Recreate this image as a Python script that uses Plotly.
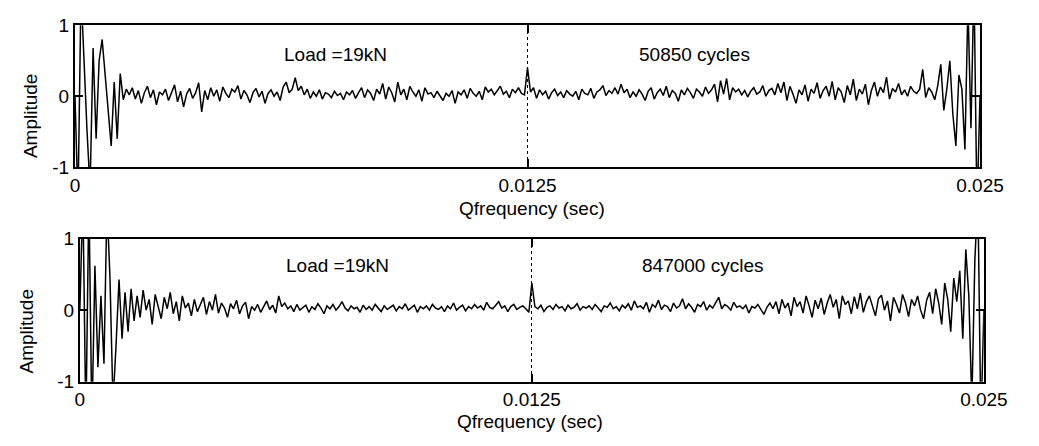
import numpy as np
import plotly.graph_objects as go

# ---------------- data ----------------
x_tick_vals = [0, 0.0125, 0.025]
x_tick_text = ["0", "0.0125", "0.025"]
y_tick_vals = [-1, 0, 1]
y_tick_text = ["-1", "0", "1"]
x_title = "Qfrequency (sec)"
y_title = "Amplitude"
load_label = "Load =19kN"
cycles_top = "50850 cycles"
cycles_bottom = "847000 cycles"
x_end = 0.025

amp_50850 = [
    0.0, -1.5, 1.5, 0.4, -0.5, -1.3, 0.68, -0.6, 0.5, 0.8,
    0.3, -0.2, -0.7, 0.2, -0.6, 0.32, -0.05, 0.1, 0.02, 0.12,
    -0.04, 0.08, -0.1, 0.05, 0.14, -0.02, 0.09, -0.12, 0.06, 0.02,
    0.1, -0.06, 0.04, 0.16, -0.08, 0.07, -0.15, 0.03, 0.11, -0.03,
    0.05, 0.19, -0.22, 0.08, -0.05, 0.12, 0.0, 0.09, -0.07, 0.13,
    0.04, -0.02, 0.1, 0.06, 0.15, -0.04, 0.08, 0.02, -0.09, 0.05,
    0.11, -0.01, 0.07, -0.1, 0.04, 0.09, 0.0, 0.06, -0.06, 0.13,
    0.2, 0.05, 0.1, 0.26, 0.08, 0.14, 0.02, 0.1, -0.03, 0.06,
    0.0, 0.09, -0.04, 0.05, 0.03, -0.02, 0.07, 0.01, 0.04, -0.05,
    0.06, 0.02, 0.08, -0.03, 0.05, 0.12, -0.02, 0.09, 0.04, -0.06,
    0.1, 0.03, 0.18, -0.04, 0.13, 0.05, -0.08, 0.2, 0.02, 0.1,
    -0.05, 0.14, 0.06, 0.0, 0.09, -0.07, 0.12, 0.03, 0.05, -0.02,
    0.07, 0.01, -0.06, 0.04, 0.0, 0.08, -0.1, 0.06, 0.02, 0.09,
    -0.03, 0.11, 0.04, 0.0, 0.07, -0.05, 0.13, 0.06, 0.1, 0.02,
    0.08, 0.14, 0.03, 0.07, -0.02, 0.1, 0.05, 0.12, 0.04, 0.02,
    0.4, 0.06, 0.12, -0.03, 0.09, 0.02, 0.07, -0.04, 0.05, 0.1,
    0.01, 0.06, -0.02, 0.08, 0.03, 0.0, 0.07, -0.05, 0.1, 0.04,
    0.02, 0.11, -0.03, 0.06, 0.09, 0.15, 0.01, 0.08, 0.04, 0.12,
    0.03, 0.17, 0.05, 0.1, -0.02, 0.06, 0.0, 0.09, 0.03, -0.06,
    0.07, 0.12, -0.04, 0.05, 0.1, 0.01, 0.14, -0.02, 0.08, 0.04,
    -0.07, 0.09, 0.02, 0.11, 0.05, -0.03, 0.1, 0.06, 0.0, 0.13,
    0.04, 0.09, 0.17, -0.08, 0.22, 0.03, 0.25, -0.05, 0.12, 0.06,
    0.1, 0.02, 0.08, -0.01, 0.07, 0.12, 0.03, 0.06, 0.15, 0.0,
    0.08, 0.11, 0.02, 0.18, 0.05, 0.2, -0.06, 0.14, 0.03, -0.1,
    0.09, 0.02, 0.16, -0.07, 0.1, 0.04, 0.19, -0.03, 0.08, 0.14,
    0.0, 0.21, -0.05, 0.12, 0.06, -0.09, 0.15, 0.02, 0.24, -0.06,
    0.1, 0.03, 0.17, -0.12, 0.08, 0.2, 0.0, 0.13, 0.05, 0.27,
    -0.04, 0.11, 0.06, 0.18, 0.02, 0.09, 0.0, 0.14, 0.07, 0.04,
    0.1, 0.38, -0.02, 0.12, 0.06, -0.05, 0.15, 0.45, -0.2, 0.1,
    0.5, -0.25, -0.7, 0.3, 0.1, -0.75, 1.3, -0.45, 1.6, -1.6,
    0.0,
]

amp_847000 = [
    0.0, 1.6, -1.6, 1.6, -1.6, 0.62, -0.8, 0.2, -0.75, 1.5,
    0.45, -1.3, -0.5, 0.43, -0.4, 0.25, -0.3, 0.3, -0.15, 0.2,
    -0.1, 0.28, 0.0, 0.15, -0.2, 0.22, 0.05, -0.12, 0.18, 0.02,
    0.25, -0.05, 0.12, -0.15, 0.2, 0.03, 0.1, -0.08, 0.15, -0.02,
    0.08, 0.18, -0.06, 0.12, 0.0, 0.22, -0.04, 0.1, 0.03, -0.1,
    0.09, 0.02, 0.14, -0.05, 0.06, 0.11, -0.12, 0.05, 0.0, 0.08,
    -0.03, 0.06, 0.13, 0.01, 0.07, -0.04, 0.2, 0.05, 0.1, 0.02,
    0.06, -0.02, 0.08, 0.0, 0.04, 0.07, -0.03, 0.05, 0.01, 0.09,
    0.03, -0.05, 0.06, 0.02, 0.08, 0.0, 0.05, 0.12, 0.03, -0.01,
    0.06, 0.02, 0.04, -0.03, 0.07, 0.01, 0.05, 0.0, 0.08, 0.03,
    -0.02, 0.06, 0.01, 0.04, 0.07, -0.01, 0.05, 0.02, 0.09, 0.0,
    0.04, 0.07, -0.03, 0.05, 0.02, 0.06, 0.0, 0.08, 0.03, 0.01,
    0.05, -0.02, 0.06, 0.02, 0.1, 0.0, 0.04, 0.07, -0.01, 0.05,
    0.02, 0.08, 0.03, 0.06, 0.0, 0.11, 0.04, 0.02, 0.07, 0.12,
    0.03, 0.06, -0.02, 0.05, 0.08, 0.01, 0.04, 0.06, 0.02, -0.03,
    0.38, 0.05, 0.02, 0.07, -0.02, 0.04, 0.06, 0.01, 0.08, 0.03,
    0.05, -0.01, 0.07, 0.02, 0.04, 0.09, 0.0, 0.05, 0.03, 0.06,
    0.01, 0.08, 0.03, -0.02, 0.06, 0.04, 0.1, 0.02, 0.05, -0.01,
    0.07, 0.03, 0.09, 0.0, 0.13, 0.04, 0.06, 0.02, 0.11, -0.03,
    0.08, 0.04, 0.14, 0.01, 0.07, 0.05, -0.02, 0.1, 0.03, 0.06,
    0.16, 0.02, 0.09, 0.04, -0.03, 0.08, 0.05, 0.12, 0.0, 0.07,
    0.03, 0.1, 0.18, 0.02, 0.08, 0.05, 0.0, 0.11, 0.04, 0.06,
    0.02, 0.07, -0.04, 0.05, 0.03, 0.08, 0.0, -0.06, 0.04, 0.1,
    0.02, 0.12, -0.05, 0.15, 0.03, 0.1, -0.08, 0.18, 0.05, 0.12,
    -0.04, 0.2, 0.06, -0.1, 0.14, 0.02, 0.17, -0.06, 0.1, 0.22,
    0.04, 0.15, -0.12, 0.2, 0.08, 0.13, -0.05, 0.19, 0.02, 0.24,
    -0.03, 0.12, 0.2, 0.05, -0.08, 0.16, 0.21, 0.0, 0.13, -0.15,
    0.18, 0.08, -0.04, 0.22, 0.1, -0.09, 0.15, 0.06, 0.2, 0.0,
    -0.12, 0.14, 0.25, -0.05, 0.3, 0.1, -0.2, 0.38, 0.15, -0.3,
    0.45, 0.12, 0.55, -0.4, 0.85, 0.2, -1.3, 0.7, 1.6, -1.6,
    0.0,
]

# ---------------- figure ----------------
W, H = 1039, 446
FONT = "Liberation Sans, Arial, sans-serif"
FS = 19


def px_x(p):
    return p / W


def px_y(p):
    return 1 - p / H


panels = [
    dict(y=amp_50850, xd=(72, 1003), yd=(16, 165), cyc=cycles_top,
         load_pos=(340, 47), cyc_pos=(709, 47), amp_pos=(26, 111), xt_pos=(542, 208)),
    dict(y=amp_847000, xd=(77, 1007), yd=(240, 390), cyc=cycles_bottom,
         load_pos=(342, 268), cyc_pos=(718, 268), amp_pos=(22, 337), xt_pos=(540, 432)),
]

fig = go.Figure()
annotations = []
for i, p in enumerate(panels, start=1):
    ys = p["y"]
    n = len(ys)
    xs = np.linspace(0, x_end, n)
    xa = "x" if i == 1 else f"x{i}"
    ya = "y" if i == 1 else f"y{i}"
    fig.add_trace(go.Scatter(x=xs, y=ys, mode="lines", xaxis=xa, yaxis=ya,
                             line=dict(color="black", width=1.5), showlegend=False,
                             hoverinfo="skip"))
    axkey = "" if i == 1 else str(i)
    fig.update_layout(**{
        f"xaxis{axkey}": dict(
            domain=[px_x(p["xd"][0]), px_x(p["xd"][1])], anchor=ya,
            range=[0, x_end], tickvals=x_tick_vals, ticktext=x_tick_text,
            ticks="inside", ticklen=8, tickwidth=1.5, tickcolor="black",
            showline=True, linecolor="black", linewidth=2, mirror="ticks",
            showgrid=True, gridcolor="black", griddash="dot", gridwidth=1,
            zeroline=False, tickfont=dict(family=FONT, size=FS, color="black"),
        ),
        f"yaxis{axkey}": dict(
            domain=[px_y(p["yd"][1]), px_y(p["yd"][0])], anchor=xa,
            range=[-1, 1], tickvals=y_tick_vals, ticktext=y_tick_text,
            ticks="inside", ticklen=8, tickwidth=1.5, tickcolor="black",
            showline=True, linecolor="black", linewidth=2, mirror="ticks",
            showgrid=False, zeroline=False,
            tickfont=dict(family=FONT, size=FS, color="black"),
        ),
    })
    for txt, pos in [(load_label, p["load_pos"]), (p["cyc"], p["cyc_pos"]),
                     (x_title, p["xt_pos"])]:
        annotations.append(dict(text=txt, x=px_x(pos[0]), y=px_y(pos[1]),
                                xref="paper", yref="paper", showarrow=False,
                                xanchor="center", yanchor="middle",
                                font=dict(family=FONT, size=FS, color="black")))
    annotations.append(dict(text=y_title, x=px_x(p["amp_pos"][0]), y=px_y(p["amp_pos"][1]),
                            xref="paper", yref="paper", showarrow=False, textangle=-90,
                            xanchor="center", yanchor="middle",
                            font=dict(family=FONT, size=FS, color="black")))

fig.update_layout(
    width=W, height=H, autosize=False,
    margin=dict(l=0, r=0, t=0, b=0),
    paper_bgcolor="white", plot_bgcolor="white",
    annotations=annotations,
)

fig.write_html("out.html", config={"displayModeBar": False},
               post_script="document.body.style.margin='0';document.body.style.overflow='hidden';")
